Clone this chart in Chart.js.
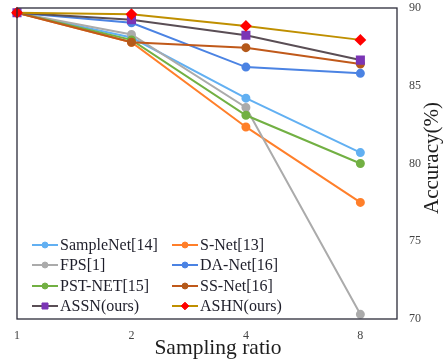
<!DOCTYPE html>
<html>
<head>
<meta charset="utf-8">
<script src="https://cdn.jsdelivr.net/npm/chart.js@4"></script>
<style>
  html, body { margin: 0; padding: 0; background: #fff; }
  #wrap { width: 443px; height: 362px; }
</style>
</head>
<body>
<div id="wrap"><canvas id="chart" width="443" height="362"></canvas></div>
<script>
// Sampling ratios (plotted on equal steps)
const categories = ['1', '2', '4', '8'];
const yTicks = [70, 75, 80, 85, 90];

// Accuracy (%) per method
const sampleNet = [89.7, 88.1, 84.2, 80.7];
const sNet = [89.7, 87.8, 82.35, 77.5];
const fps = [89.7, 88.3, 83.6, 70.3];
const daNet = [89.7, 89.05, 86.2, 85.8];
const pstNet = [89.7, 87.95, 83.1, 80.0];
const ssNet = [89.7, 87.8, 87.45, 86.4];
const assn = [89.7, 89.25, 88.25, 86.65];
const ashn = [89.7, 89.6, 88.85, 87.95];

const serif = '"Liberation Serif", "Times New Roman", serif';

function toPoints(values) {
    return values.map((v, i) => ({ x: i, y: v }));
}

function series(label, values, line, marker, style, radius) {
    return {
        label: label,
        data: toPoints(values),
        borderColor: line,
        backgroundColor: marker,
        pointBackgroundColor: marker,
        pointBorderColor: marker,
        pointStyle: style,
        pointRadius: radius,
        borderWidth: 2,
        tension: 0,
        clip: false
    };
}

const datasets = [
    series('SampleNet[14]', sampleNet, '#62b0f2', '#62b0f2', 'circle', 3.5),
    series('S-Net[13]', sNet, '#ff7f2a', '#ff7f2a', 'circle', 3.5),
    series('FPS[1]', fps, '#ababab', '#ababab', 'circle', 3.5),
    series('DA-Net[16]', daNet, '#4b83e3', '#4b83e3', 'circle', 3.5),
    series('PST-NET[15]', pstNet, '#72b043', '#72b043', 'circle', 3.5),
    series('SS-Net[16]', ssNet, '#c0591a', '#b4591a', 'circle', 3.5),
    series('ASSN(ours)', assn, '#5a4e55', '#7b35b5', 'rect', 5),
    series('ASHN(ours)', ashn, '#bf8f00', '#ff0000', 'rectRot', 4.5)
];
// later series drawn on top
datasets.forEach((d, i) => { d.order = datasets.length - i; });

// Box around the plot area plus the axis titles
const frame = {
    id: 'frame',
    afterDatasetsDraw(chart) {
        const a = chart.chartArea;
        const ctx = chart.ctx;
        ctx.save();
        ctx.strokeStyle = '#2b2b3a';
        ctx.lineWidth = 1.3;
        ctx.strokeRect(a.left, a.top, a.right - a.left, a.bottom - a.top);

        ctx.fillStyle = '#1e1e1e';
        ctx.textAlign = 'center';
        ctx.textBaseline = 'middle';
        ctx.font = '21.5px ' + serif;
        ctx.fillText('Sampling ratio', 218, 348);

        ctx.translate(432, 158);
        ctx.rotate(-Math.PI / 2);
        ctx.font = '21px ' + serif;
        ctx.fillText('Accuracy(%)', 0, 0);
        ctx.restore();
    }
};

// Legend inside the plot, two columns
const innerLegend = {
    id: 'innerLegend',
    afterDraw(chart) {
        const ctx = chart.ctx;
        const cols = [32, 172];
        const rows = [245, 265, 286, 306];
        ctx.save();
        chart.data.datasets.forEach((d, i) => {
            const x = cols[i % 2];
            const y = rows[Math.floor(i / 2)];
            ctx.strokeStyle = d.borderColor;
            ctx.lineWidth = 2;
            ctx.beginPath();
            ctx.moveTo(x, y);
            ctx.lineTo(x + 26, y);
            ctx.stroke();
            ctx.fillStyle = d.pointBackgroundColor;
            ctx.strokeStyle = d.pointBorderColor;
            ctx.lineWidth = 1;
            Chart.helpers.drawPoint(ctx, {
                pointStyle: d.pointStyle,
                radius: d.pointRadius * 0.85,
                borderWidth: 1,
                rotation: 0
            }, x + 13, y);
            ctx.fillStyle = '#1e1e2a';
            ctx.font = '16px ' + serif;
            ctx.textBaseline = 'middle';
            ctx.textAlign = 'left';
            ctx.fillText(d.label, x + 28, y + 1);
        });
        ctx.restore();
    }
};

new Chart(document.getElementById('chart'), {
    type: 'line',
    data: { datasets: datasets },
    options: {
        responsive: false,
        animation: false,
        layout: { autoPadding: false, padding: { left: 17, top: 8, right: 0, bottom: 0 } },
        plugins: {
            legend: { display: false },
            tooltip: { enabled: false }
        },
        scales: {
            x: {
                type: 'linear',
                min: 0,
                max: 3.32,
                grid: { display: false, drawTicks: false },
                border: { display: false },
                afterBuildTicks: s => { s.ticks = categories.map((c, i) => ({ value: i })); },
                ticks: {
                    autoSkip: false,
                    maxRotation: 0,
                    padding: 10,
                    color: '#444',
                    font: { family: serif, size: 12 },
                    callback: v => categories[v]
                },
                afterFit: s => {
                    s.height = 43;
                    s.paddingLeft = 0; s.paddingRight = 0;
                }
            },
            y: {
                position: 'right',
                min: 70,
                max: 90,
                grid: { display: false, drawTicks: false },
                border: { display: false },
                afterBuildTicks: s => { s.ticks = yTicks.map(v => ({ value: v })); },
                ticks: {
                    padding: 12,
                    color: '#444',
                    font: { family: serif, size: 12 }
                },
                afterFit: s => {
                    s.width = 46;
                    s.paddingTop = 0; s.paddingBottom = 0;
                }
            }
        }
    },
    plugins: [frame, innerLegend]
});
</script>
</body>
</html>
